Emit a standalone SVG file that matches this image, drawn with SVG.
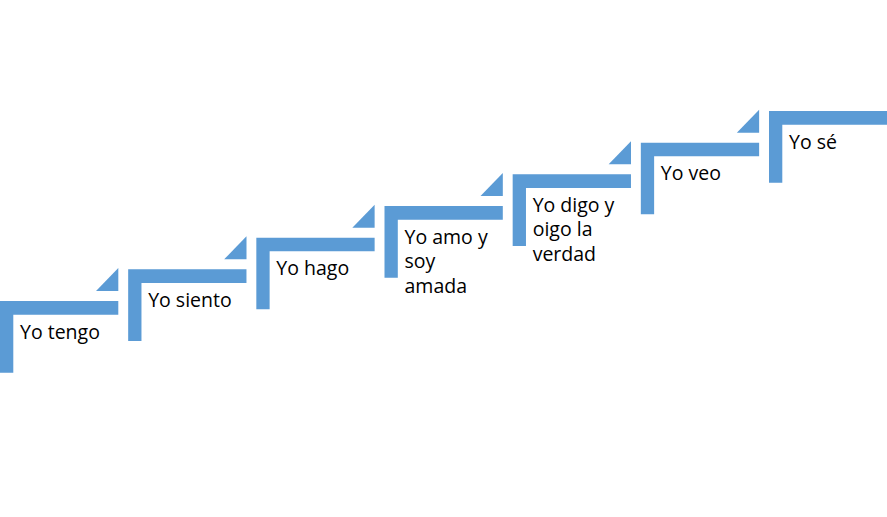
<svg xmlns="http://www.w3.org/2000/svg" xmlns:xlink="http://www.w3.org/1999/xlink" width="887" height="517" viewBox="0 0 887 517">
  <style>
    .shape { fill: #5B9BD5; }
    .lbl { font-family: "Open Sans", "Liberation Sans", sans-serif; font-size: 19.5px; fill: #000000; }
  </style>
  <defs>
    <path id="stepL" class="shape" d="M0,0 H118.3 V13.7 H13.3 V71.7 H0 Z"/>
    <path id="stepT" class="shape" d="M96,-10 L118.3,-33 L118.3,-10 Z"/>
  </defs>
  <rect width="887" height="517" fill="#FFFFFF"/>

  <g id="step1" transform="translate(0,301)">
    <use href="#stepL" xlink:href="#stepL"/>
    <use href="#stepT" xlink:href="#stepT"/>
    <text class="lbl" x="20" y="37.5">Yo tengo</text>
  </g>
  <g id="step2" transform="translate(128.17,269.33)">
    <use href="#stepL" xlink:href="#stepL"/>
    <use href="#stepT" xlink:href="#stepT"/>
    <text class="lbl" x="20" y="37.5">Yo siento</text>
  </g>
  <g id="step3" transform="translate(256.33,237.67)">
    <use href="#stepL" xlink:href="#stepL"/>
    <use href="#stepT" xlink:href="#stepT"/>
    <text class="lbl" x="20" y="37.5">Yo hago</text>
  </g>
  <g id="step4" transform="translate(384.5,206)">
    <use href="#stepL" xlink:href="#stepL"/>
    <use href="#stepT" xlink:href="#stepT"/>
    <text class="lbl" x="20" y="37.5">Yo amo y</text>
    <text class="lbl" x="20" y="62">soy</text>
    <text class="lbl" x="20" y="86.5">amada</text>
  </g>
  <g id="step5" transform="translate(512.67,174.33)">
    <use href="#stepL" xlink:href="#stepL"/>
    <use href="#stepT" xlink:href="#stepT"/>
    <text class="lbl" x="20" y="37.5">Yo digo y</text>
    <text class="lbl" x="20" y="62">oigo la</text>
    <text class="lbl" x="20" y="86.5">verdad</text>
  </g>
  <g id="step6" transform="translate(640.83,142.67)">
    <use href="#stepL" xlink:href="#stepL"/>
    <use href="#stepT" xlink:href="#stepT"/>
    <text class="lbl" x="20" y="37.5">Yo veo</text>
  </g>
  <g id="step7" transform="translate(769,111)">
    <use href="#stepL" xlink:href="#stepL"/>
    <text class="lbl" x="20" y="37.5">Yo sé</text>
  </g>
  <g id="connectors"/>
</svg>
